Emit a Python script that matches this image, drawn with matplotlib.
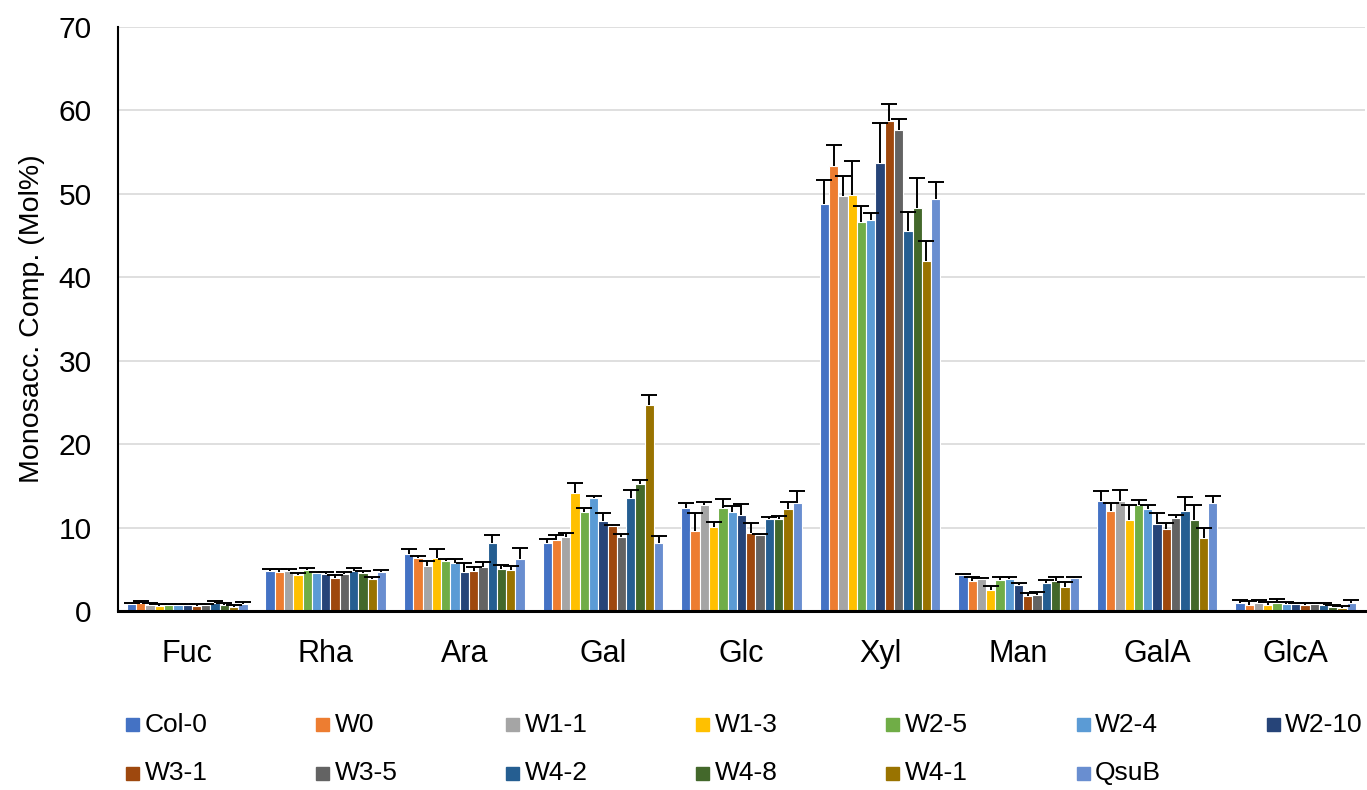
import numpy as np
import matplotlib.pyplot as plt
from matplotlib.patches import Rectangle

plt.rcParams['font.family'] = ['Liberation Sans', 'DejaVu Sans']

sugars = ['Fuc', 'Rha', 'Ara', 'Gal', 'Glc', 'Xyl', 'Man', 'GalA', 'GlcA']
lines = ['Col-0', 'W0', 'W1-1', 'W1-3', 'W2-5', 'W2-4', 'W2-10',
         'W3-1', 'W3-5', 'W4-2', 'W4-8', 'W4-1', 'QsuB']
colors = ['#4472C4', '#ED7D31', '#A5A5A5', '#FFC000', '#70AD47', '#5B9BD5', '#264478',
          '#9E480E', '#636363', '#255E91', '#43682B', '#997300', '#698ED0']

# mol% per sugar, one value per line (same order as `lines`), plus SD
fuc = [0.8, 0.95, 0.75, 0.6, 0.7, 0.7, 0.7, 0.65, 0.7, 0.9, 0.7, 0.45, 0.8]
fuc_sd = [0.2, 0.3, 0.2, 0.2, 0.1, 0.1, 0.15, 0.15, 0.1, 0.3, 0.2, 0.3, 0.3]
rha = [4.8, 4.7, 4.8, 4.3, 4.9, 4.5, 4.4, 4.0, 4.4, 4.8, 4.5, 3.8, 4.7]
rha_sd = [0.2, 0.3, 0.2, 0.3, 0.2, 0.2, 0.3, 0.3, 0.3, 0.3, 0.3, 0.3, 0.2]
ara = [6.8, 6.4, 5.4, 6.4, 6.0, 5.7, 4.7, 4.8, 5.3, 8.1, 5.0, 4.9, 6.2]
ara_sd = [0.6, 0.2, 0.6, 1.0, 0.2, 0.5, 1.1, 0.5, 0.6, 1.0, 0.5, 0.5, 1.4]
gal = [8.1, 8.5, 8.85, 14.2, 11.85, 13.5, 10.8, 10.2, 8.9, 13.5, 15.25, 24.7, 8.2]
gal_sd = [0.5, 0.6, 0.45, 1.1, 0.5, 0.3, 1.0, 0.1, 0.3, 1.0, 0.5, 1.15, 0.75]
glc = [12.4, 9.6, 12.75, 10.1, 12.4, 11.85, 11.55, 9.3, 9.15, 11.0, 11.0, 12.2, 12.9]
glc_sd = [0.5, 2.2, 0.3, 0.6, 1.0, 0.7, 1.25, 1.3, 0.1, 0.25, 0.4, 0.85, 1.5]
xyl = [48.8, 53.4, 49.7, 49.9, 46.6, 46.9, 53.7, 58.7, 57.6, 45.5, 48.3, 42.0, 49.4]
xyl_sd = [2.85, 2.5, 2.5, 4.0, 1.9, 0.8, 4.8, 2.1, 1.4, 2.3, 3.6, 2.4, 2.0]
man = [4.3, 3.6, 3.8, 2.5, 3.7, 3.8, 3.1, 1.8, 1.9, 3.4, 3.6, 2.9, 4.0]
man_sd = [0.1, 0.5, 0.15, 0.5, 0.4, 0.3, 0.3, 0.4, 0.35, 0.3, 0.5, 0.6, 0.1]
gala = [13.15, 11.95, 13.15, 10.95, 12.65, 12.25, 10.4, 9.8, 11.2, 12.0, 10.95, 8.7, 12.9]
gala_sd = [1.2, 1.0, 1.4, 1.7, 0.6, 0.4, 1.3, 0.7, 0.25, 1.7, 1.7, 1.3, 0.9]
glca = [1.0, 0.7, 0.9, 0.7, 1.0, 0.8, 0.8, 0.75, 0.8, 0.7, 0.45, 0.35, 0.9]
glca_sd = [0.3, 0.5, 0.4, 0.35, 0.4, 0.3, 0.2, 0.25, 0.15, 0.3, 0.3, 0.3, 0.45]

means = np.array([fuc, rha, ara, gal, glc, xyl, man, gala, glca])
errs = np.array([fuc_sd, rha_sd, ara_sd, gal_sd, glc_sd, xyl_sd, man_sd, gala_sd, glca_sd])

fig = plt.figure(figsize=(13.67, 7.9), dpi=100)
ax = fig.add_axes([0.0863, 0.2266, 0.9122, 0.7392])

x = np.arange(len(sugars))
w = 0.067
for j, (name, c) in enumerate(zip(lines, colors)):
    pos = x + (j - 6) * w
    top = means[:, j] + errs[:, j]
    ax.bar(pos, means[:, j], width=w, color=c, edgecolor='white', linewidth=0.8, zorder=2)
    # plus-only error bars, like the Excel original
    ax.vlines(pos, means[:, j], top, color='black', linewidth=1.4, zorder=3)
    ax.plot(pos, top, ls='none', marker='_', markersize=11, markeredgewidth=1.4,
            color='black', zorder=3)

ax.set_xlim(-0.5, len(sugars) - 0.5)
ax.set_ylim(0, 70)
ax.set_yticks(range(0, 71, 10))
ax.set_xticks(x)
ax.set_xticklabels(sugars)
ax.tick_params(axis='y', length=0, pad=19, labelsize=21.5)
ax.tick_params(axis='x', length=0, pad=20, labelsize=22)
ax.yaxis.grid(True, color='#D9D9D9', linewidth=1.2, zorder=0)
ax.set_axisbelow(True)
for s in ['top', 'right']:
    ax.spines[s].set_visible(False)
ax.spines['left'].set_linewidth(1.5)
ax.spines['bottom'].set_linewidth(2.2)
ax.set_ylabel('Monosacc. Comp. (Mol%)', fontsize=20.5, labelpad=10)

# legend laid out like Excel: 7 equal-width slots per row
x0, dx = 0.0925, 0.139
rows_y = [0.0823, 0.0215]
sq_w, sq_h = 13 / 1367, 13 / 790
for i, (name, c) in enumerate(zip(lines, colors)):
    r, k = divmod(i, 7)
    lx = x0 + k * dx
    fig.add_artist(Rectangle((lx, rows_y[r] - sq_h / 2), sq_w, sq_h,
                             transform=fig.transFigure, color=c))
    fig.text(lx + sq_w + 0.004, rows_y[r], name, fontsize=19, va='center', ha='left')

fig.savefig('out.png', dpi=100)
